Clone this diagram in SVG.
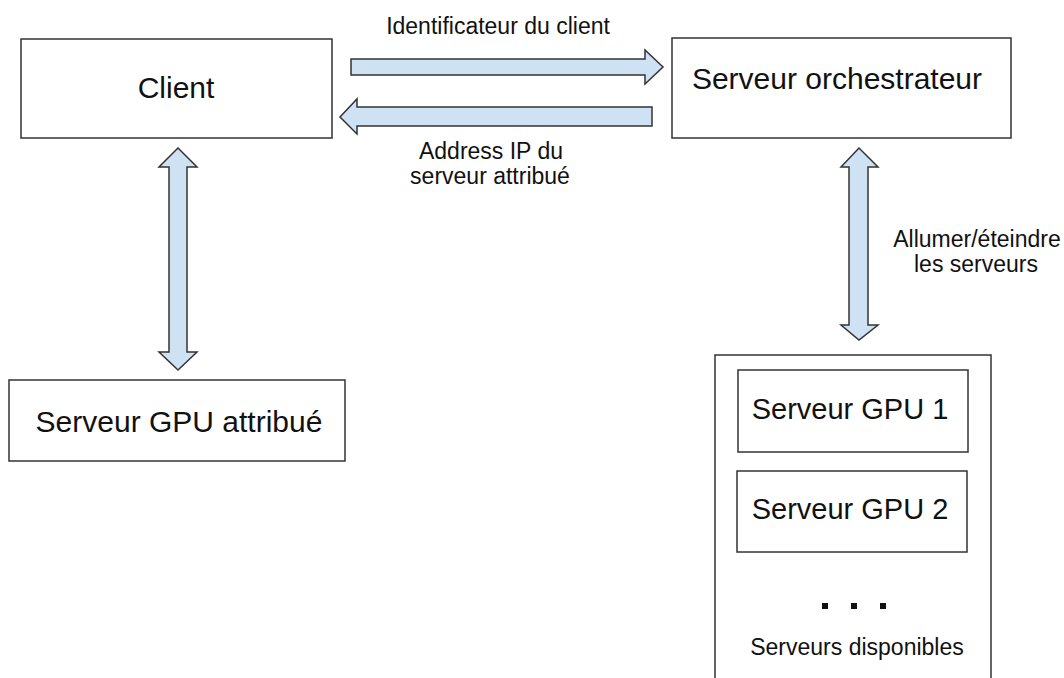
<svg xmlns="http://www.w3.org/2000/svg" width="1064" height="678" viewBox="0 0 1064 678">
<style>
.box{fill:#ffffff;stroke:#333333;stroke-width:1.5}
.arr{fill:#cfe2f3;stroke:#333333;stroke-width:1.5;stroke-linejoin:miter}
.big{font-family:"Liberation Sans",Arial,sans-serif;font-size:30px;fill:#111111;text-anchor:middle}
.lbl{font-family:"Liberation Sans",Arial,sans-serif;font-size:23px;fill:#111111;text-anchor:middle}
</style>
<rect width="1064" height="678" fill="#ffffff"/>
<g id="connectors">
<path class="arr" d="M351,59 L645,59 L645,50 L663,67 L645,84 L645,75 L351,75 Z"/>
<path class="arr" d="M652,107 L357,107 L357,99 L340,117 L357,134 L357,126 L652,126 Z"/>
<path class="arr" d="M169,167 L159,167 L178,148 L197,167 L187,167 L187,352 L197,352 L178,370 L159,352 L169,352 Z"/>
<path class="arr" d="M849,167 L841,167 L859,148 L878,167 L868,167 L868,325 L878,325 L859,340 L841,325 L849,325 Z"/>
<text class="lbl" x="498" y="34">Identificateur du client</text>
<text class="lbl" x="491" y="159">Address IP du</text>
<text class="lbl" x="490" y="184">serveur attribué</text>
<text class="lbl" x="977" y="247">Allumer/éteindre</text>
<text class="lbl" x="976" y="272">les serveurs</text>
</g>
<g id="client">
<rect class="box" x="21" y="39" width="311" height="99"/>
<text class="big" x="176" y="98">Client</text>
</g>
<g id="orchestrateur">
<rect class="box" x="672" y="38" width="339" height="100"/>
<text class="big" x="837" y="89">Serveur orchestrateur</text>
</g>
<g id="gpu-attribue">
<rect class="box" x="9" y="380" width="336" height="81"/>
<text class="big" x="179" y="432">Serveur GPU attribué</text>
</g>
<g id="serveurs-disponibles">
<rect class="box" x="715" y="355" width="276" height="340"/>
<rect x="822" y="603" width="6" height="6" fill="#111111"/>
<rect x="851" y="603" width="6" height="6" fill="#111111"/>
<rect x="880" y="603" width="6" height="6" fill="#111111"/>
<text class="lbl" x="857" y="655">Serveurs disponibles</text>
</g>
<g id="gpu1">
<rect class="box" x="738" y="370" width="230" height="82"/>
<text class="big" x="850" y="419" style="font-size:29px">Serveur GPU 1</text>
</g>
<g id="gpu2">
<rect class="box" x="737" y="471" width="230" height="81"/>
<text class="big" x="850" y="519" style="font-size:29px">Serveur GPU 2</text>
</g>
</svg>
